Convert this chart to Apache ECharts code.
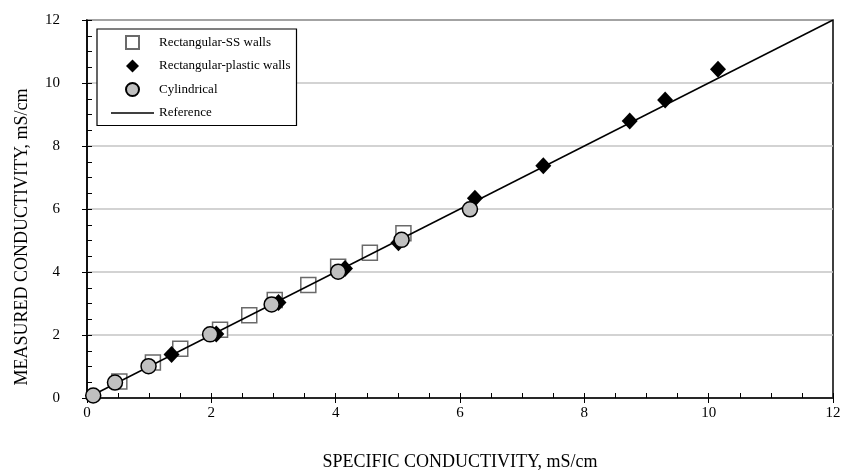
<!DOCTYPE html>
<html><head><meta charset="utf-8">
<script src="https://cdn.jsdelivr.net/npm/echarts@6/dist/echarts.min.js"></script>
<style>html,body{margin:0;padding:0;background:#fff}#c{width:845px;height:472px}</style>
</head><body><div id="c"></div>
<script>
const ssX = [0.52, 1.06, 1.50, 2.14, 2.61, 3.02, 3.56, 4.04, 4.55, 5.09];
const ssY = [0.52, 1.13, 1.56, 2.17, 2.63, 3.11, 3.59, 4.17, 4.61, 5.23];
const plX = [1.36, 2.08, 3.08, 4.15, 5.01, 6.24, 7.34, 8.73, 9.30, 10.15];
const plY = [1.38, 2.03, 3.03, 4.11, 4.93, 6.34, 7.37, 8.79, 9.46, 10.44];
const cyX = [0.10, 0.45, 0.99, 1.98, 2.97, 4.04, 5.06, 6.16];
const cyY = [0.08, 0.49, 1.01, 2.02, 2.97, 4.01, 5.02, 5.99];
const refX = [0, 12];
const refY = [0, 12];
const names = ['Rectangular-SS walls', 'Rectangular-plastic walls', 'Cylindrical', 'Reference'];
const xTitle = 'SPECIFIC CONDUCTIVITY, mS/cm';
const yTitle = 'MEASURED CONDUCTIVITY, mS/cm';

const zip = (a, b) => a.map((v, i) => [v, b[i]]);
const font = 'Liberation Serif, Times New Roman, serif';
const chart = echarts.init(document.getElementById('c'));
chart.setOption({
  animation: false,
  textStyle: { fontFamily: font },
  grid: { left: 87, right: 12, top: 20, bottom: 74, show: true, borderColor: '#000', borderWidth: 1.5,
          containLabel: false, outerBoundsMode: 'none' },
  legend: {
    orient: 'vertical', left: 97, top: 29, padding: [6, 6, 6, 14],
    borderColor: '#000', borderWidth: 1.2, backgroundColor: '#fff',
    itemWidth: 43, itemHeight: 13, itemGap: 9.5, symbolKeepAspect: true,
    textStyle: { fontFamily: font, fontSize: 13, color: '#000' },
    data: [
      { name: names[0], icon: 'path://M0,0H10V10H0Z' },
      { name: names[1], icon: 'path://M5,0L10,5L5,10L0,5Z' },
      { name: names[2], icon: 'circle' },
      { name: names[3], icon: 'path://M0,0H43V1.5H0Z', itemStyle: { color: '#000', borderWidth: 0 } }
    ]
  },
  xAxis: [{
    type: 'value', min: 0, max: 12, interval: 2, position: 'bottom',
    name: xTitle, nameLocation: 'middle', nameGap: 55,
    nameTextStyle: { fontFamily: font, fontSize: 18, color: '#000' },
    axisLine: { lineStyle: { color: '#000', width: 1.5 } },
    axisTick: { inside: true, length: 5, lineStyle: { color: '#000' } },
    minorTick: { show: true, splitNumber: 4, length: 5, lineStyle: { color: '#000' } },
    axisLabel: { fontFamily: font, fontSize: 15, color: '#000', margin: 8 },
    splitLine: { show: false }
  }, {
    type: 'value', min: 0, max: 12, interval: 2, position: 'bottom',
    axisLine: { show: false },
    axisTick: { inside: false, length: 5, lineStyle: { color: '#000' } },
    axisLabel: { show: false }, splitLine: { show: false }
  }],
  yAxis: [{
    type: 'value', min: 0, max: 12, interval: 2, position: 'left',
    name: yTitle, nameLocation: 'middle', nameGap: 56,
    nameTextStyle: { fontFamily: font, fontSize: 18, color: '#000', padding: [0, 56, 0, 0] },
    axisLine: { lineStyle: { color: '#000', width: 1.5 } },
    axisTick: { inside: true, length: 5, lineStyle: { color: '#000' } },
    minorTick: { show: true, splitNumber: 4, length: 5, lineStyle: { color: '#000' } },
    axisLabel: { fontFamily: font, fontSize: 15, color: '#000', margin: 27 },
    splitLine: { show: true, lineStyle: { color: '#c4c4c4', width: 1.5 } }
  }, {
    type: 'value', min: 0, max: 12, interval: 2, position: 'left',
    axisLine: { show: false },
    axisTick: { inside: false, length: 5, lineStyle: { color: '#000' } },
    axisLabel: { show: false }, splitLine: { show: false }
  }],
  series: [
    { name: names[0], type: 'scatter', z: 2, symbol: 'rect', symbolSize: 15,
      itemStyle: { color: '#fff', borderColor: '#6a6a6a', borderWidth: 1.5, opacity: 1 }, data: zip(ssX, ssY) },
    { name: names[3], type: 'line', z: 3, symbol: 'none', showSymbol: false,
      lineStyle: { color: '#000', width: 1.5 }, itemStyle: { color: '#000' }, data: zip(refX, refY) },
    { name: names[1], type: 'scatter', z: 4, symbol: 'diamond', symbolSize: [16, 17],
      itemStyle: { color: '#000', opacity: 1 }, data: zip(plX, plY) },
    { name: names[2], type: 'scatter', z: 5, symbol: 'circle', symbolSize: 15,
      itemStyle: { color: '#c0c0c0', borderColor: '#000', borderWidth: 1.5, opacity: 1 }, data: zip(cyX, cyY) }
  ]
});
</script></body></html>
